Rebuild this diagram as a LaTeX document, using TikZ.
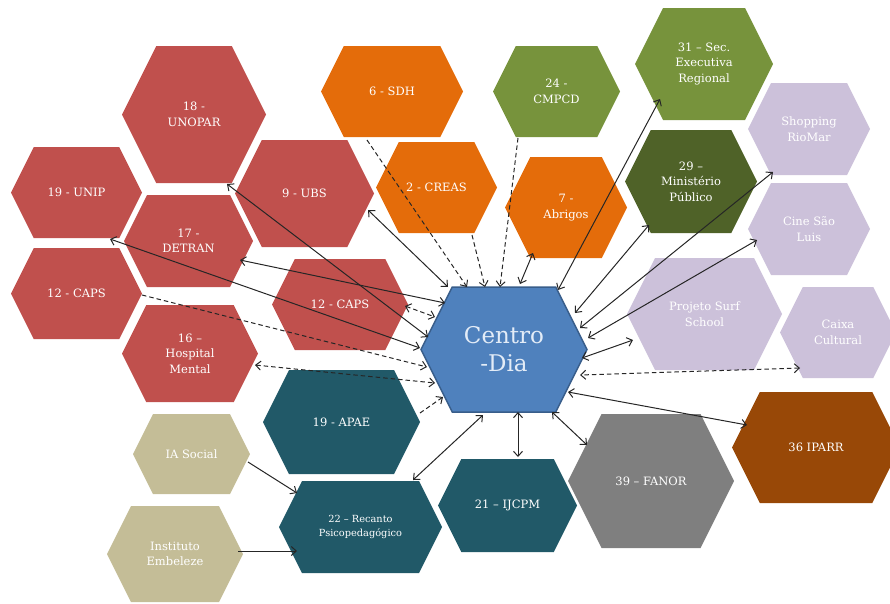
\documentclass[tikz,border=0pt]{standalone}
\usepackage{fontspec}
\setmainfont{DejaVu Serif}
\usetikzlibrary{arrows.meta,calc}
\definecolor{cred}{HTML}{C0504D}
\definecolor{corange}{HTML}{E46C0A}
\definecolor{colive}{HTML}{77933C}
\definecolor{cdkgreen}{HTML}{4F6228}
\definecolor{clav}{HTML}{CCC1DA}
\definecolor{cblue}{HTML}{4F81BD}
\definecolor{cbluedk}{HTML}{385D8A}
\definecolor{cteal}{HTML}{215968}
\definecolor{ctan}{HTML}{C4BD97}
\definecolor{cgray}{HTML}{7F7F7F}
\definecolor{cbrown}{HTML}{984807}
\definecolor{ctxtblue}{HTML}{E3ECF7}
% name, cx, cy, w, h, path options, node options, text
\newcommand\hexa[8]{%
  \path[#6] ({#2-#4/2},#3) -- ({#2-#4/2+#5/4},{#3-#5/2}) -- ({#2+#4/2-#5/4},{#3-#5/2}) -- ({#2+#4/2},#3) -- ({#2+#4/2-#5/4},{#3+#5/2}) -- ({#2-#4/2+#5/4},{#3+#5/2}) -- cycle;
  \node[lbl, minimum width=#4pt, minimum height=#5pt, #7] (#1) at (#2,#3) {#8};}
\begin{document}
\begin{tikzpicture}[x=1pt,y=-1pt,
  lbl/.style={inner sep=0pt, text=white, align=center, font=\fontsize{11.5}{15.5}\selectfont},
  con/.style={line width=1pt, black!85},
  dsh/.style={con, dash pattern=on 4.5pt off 3pt},
  >={Straight Barb[length=5pt,width=9pt]}]
\useasboundingbox (0,0) rectangle (890,603);
% hexagons
\hexa{unopar}{194}{114.5}{144}{137}{fill=cred}{}{18 -\\UNOPAR}
\hexa{unip}{76.5}{192.5}{131}{91}{fill=cred}{}{19 - UNIP}
\hexa{detran}{188.5}{241}{129}{92}{fill=cred}{}{17 -\\DETRAN}
\hexa{ubs}{304.5}{193.5}{139}{107}{fill=cred}{}{9 - UBS}
\hexa{caps12l}{76.5}{293.5}{131}{91}{fill=cred}{}{12 - CAPS}
\hexa{caps12m}{340}{304.5}{136}{91}{fill=cred}{}{12 - CAPS}
\hexa{hospital}{190}{353.5}{136}{97}{fill=cred}{}{16 –\\Hospital\\Mental}
\hexa{sdh}{392}{91.5}{142}{91}{fill=corange}{}{6 - SDH}
\hexa{creas}{436.5}{187.5}{121}{91}{fill=corange}{}{2 - CREAS}
\hexa{abrigos}{566}{207.5}{122}{101}{fill=corange}{}{7 -\\Abrigos}
\hexa{cmpcd}{556.5}{91.5}{127}{91}{fill=colive}{}{24 -\\CMPCD}
\hexa{sec}{704}{64}{138}{112}{fill=colive}{}{31 – Sec.\\Executiva\\Regional}
\hexa{mp}{691}{181.5}{132}{103}{fill=cdkgreen}{}{29 –\\Ministério\\Público}
\hexa{shopping}{809}{129}{122}{92}{fill=clav}{}{Shopping\\RioMar}
\hexa{cine}{809}{229}{122}{92}{fill=clav}{}{Cine São\\Luis}
\hexa{surf}{704.5}{314}{155}{112}{fill=clav}{}{Projeto Surf\\School}
\hexa{caixa}{838}{332.5}{116}{91}{fill=clav}{}{Caixa\\Cultural}
\hexa{apae}{341.5}{422}{157}{104}{fill=cteal}{}{19 - APAE}
\hexa{recanto}{360.5}{527}{163}{92}{fill=cteal}{font=\fontsize{9.8}{13.5}\selectfont}{22 – Recanto\\Psicopedagógico}
\hexa{ijcpm}{507.5}{505.5}{139}{93}{fill=cteal}{}{21 – IJCPM}
\hexa{iasocial}{191.5}{454}{117}{80}{fill=ctan}{}{IA Social}
\hexa{embeleze}{175}{554}{136}{96}{fill=ctan}{}{Instituto\\Embeleze}
\hexa{fanor}{651}{481}{166}{134}{fill=cgray}{}{39 – FANOR}
\hexa{iparr}{816}{447.5}{168}{111}{fill=cbrown}{}{36 IPARR}
\hexa{centro}{504}{349.5}{166}{125}{fill=cblue, draw=cbluedk, line width=1.5pt}{text=ctxtblue, font=\fontsize{23}{28}\selectfont}{Centro\\-Dia}
% solid double connectors
\draw[con,<->] ($(unopar)+(33,69.5)$) -- ($(centro)+(-76,-12.5)$);
\draw[con,<->] ($(ubs)+(63.5,16.5)$) -- ($(centro)+(-56,-62.5)$);
\draw[con,<->] ($(unip)+(33.5,46.5)$) -- ($(centro)+(-84,-1.5)$);
\draw[con,<->] ($(detran)+(51.5,19)$) -- ($(centro)+(-59,-46.5)$);
\draw[con,<->] ($(abrigos)+(-33,45.5)$) -- ($(centro)+(16,-65.5)$);
\draw[con,<->] ($(sec)+(-44,35)$) -- ($(centro)+(54,-59.5)$);
\draw[con,<->] ($(mp)+(-42,43.5)$) -- ($(centro)+(71,-36.5)$);
\draw[con,<->] ($(shopping)+(-36,43)$) -- ($(centro)+(76,-21.5)$);
\draw[con,<->] ($(cine)+(-52,11)$) -- ($(centro)+(84,-11.5)$);
\draw[con,<->] ($(surf)+(-71.5,26)$) -- ($(centro)+(78,8.5)$);
\draw[con,<->] ($(iparr)+(-69,-22.5)$) -- ($(centro)+(64,42.5)$);
\draw[con,<->] ($(fanor)+(-64,-36)$) -- ($(centro)+(48,62.5)$);
\draw[con,<->] ($(ijcpm)+(10.5,-48.5)$) -- ($(centro)+(14,62.5)$);
\draw[con,<->] ($(recanto)+(52.5,-47)$) -- ($(centro)+(-21,65.5)$);
% solid single connectors
\draw[con,->] ($(iasocial)+(56.5,8)$) -- ($(recanto)+(-63.5,-34)$);
\draw[con,->] ($(embeleze)+(63,-3)$) -- ($(recanto)+(-63.5,24)$);
% dashed connectors
\draw[dsh,->] ($(sdh)+(-25,48.5)$) -- ($(centro)+(-37,-62.5)$);
\draw[dsh,->] ($(creas)+(35.5,47.5)$) -- ($(centro)+(-19,-62.5)$);
\draw[dsh,->] ($(cmpcd)+(-38.5,46.5)$) -- ($(centro)+(-4,-62.5)$);
\draw[dsh,<->] ($(caps12m)+(65,1.5)$) -- ($(centro)+(-69,-32.5)$);
\draw[dsh,->] ($(caps12l)+(65.5,1.5)$) -- ($(centro)+(-77,17.5)$);
\draw[dsh,<->] ($(hospital)+(65,11.5)$) -- ($(centro)+(-69,33.5)$);
\draw[dsh,->] ($(apae)+(78.5,-9)$) -- ($(centro)+(-61,47.5)$);
\draw[dsh,<->] ($(caixa)+(-38,35.5)$) -- ($(centro)+(76,25.5)$);
\end{tikzpicture}
\end{document}
